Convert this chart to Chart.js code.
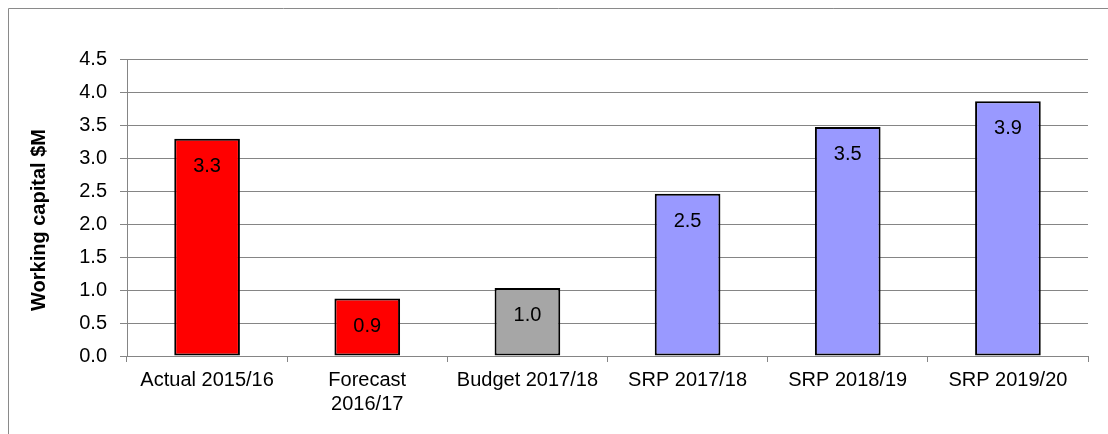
<!DOCTYPE html>
<html>
<head>
<meta charset="utf-8">
<title>Working capital</title>
<script src="https://cdn.jsdelivr.net/npm/chart.js@4"></script>
<style>
  html, body { margin: 0; padding: 0; background: #ffffff; }
  #wrap { width: 1108px; height: 434px; position: relative; }
  canvas { display: block; }
</style>
</head>
<body>
<div id="wrap"><canvas id="chart" width="1108" height="434"></canvas></div>
<script>
// Working capital by year ($M)
const categories = ['Actual 2015/16', ['Forecast', '2016/17'], 'Budget 2017/18', 'SRP 2017/18', 'SRP 2018/19', 'SRP 2019/20'];
const workingCapital = [3.29, 0.87, 1.03, 2.46, 3.47, 3.86];
const barColours = ['#ff0000', '#ff0000', '#a6a6a6', '#9999ff', '#9999ff', '#9999ff'];
const yMin = 0;
const yMax = 4.5;
const yStep = 0.5;
const axisTitle = 'Working capital $M';

const FONT = "'Liberation Sans', Arial, Helvetica, sans-serif";
const GRID = '#858585';
Chart.defaults.font.family = FONT;
Chart.defaults.color = '#000000';

// Thin frame around the whole chart area
const framePlugin = {
  id: 'frame',
  beforeDraw(chart) {
    const ctx = chart.ctx;
    ctx.save();
    ctx.strokeStyle = '#8a8a8a';
    ctx.lineWidth = 1;
    ctx.beginPath();
    ctx.moveTo(8.5, chart.height);
    ctx.lineTo(8.5, 8.5);
    ctx.lineTo(chart.width, 8.5);
    ctx.stroke();
    ctx.restore();
  }
};

// Value printed inside the top of each bar
const valueLabels = {
  id: 'valueLabels',
  afterDatasetsDraw(chart) {
    const ctx = chart.ctx;
    const meta = chart.getDatasetMeta(0);
    const data = chart.data.datasets[0].data;
    ctx.save();
    ctx.font = '20px ' + FONT;
    ctx.fillStyle = '#000000';
    ctx.textAlign = 'center';
    ctx.textBaseline = 'alphabetic';
    meta.data.forEach((bar, i) => {
      ctx.fillText(data[i].toFixed(1), bar.x, bar.y + 33);
    });
    ctx.restore();
  }
};

// Rotated y-axis title
const yTitle = {
  id: 'yTitle',
  afterDraw(chart) {
    const ctx = chart.ctx;
    ctx.save();
    ctx.font = 'bold 20px ' + FONT;
    ctx.fillStyle = '#000000';
    ctx.textAlign = 'center';
    ctx.textBaseline = 'alphabetic';
    ctx.translate(45, 220);
    ctx.rotate(-Math.PI / 2);
    ctx.fillText(axisTitle, 0, 0);
    ctx.restore();
  }
};

new Chart(document.getElementById('chart'), {
  type: 'bar',
  data: {
    labels: categories,
    datasets: [{
      data: workingCapital,
      backgroundColor: barColours,
      borderColor: '#000000',
      borderWidth: 2,
      borderSkipped: false,
      categoryPercentage: 1,
      barPercentage: 0.41
    }]
  },
  options: {
    responsive: false,
    animation: false,
    events: [],
    layout: { padding: { left: 8, right: 20, top: 59, bottom: 0 } },
    plugins: {
      legend: { display: false },
      tooltip: { enabled: false },
      title: { display: false }
    },
    scales: {
      x: {
        afterFit(scale) { scale.height = 78; },
        grid: {
          display: true,
          drawOnChartArea: false,
          drawTicks: true,
          tickLength: 6,
          color: GRID,
          lineWidth: 1,
          offset: true
        },
        border: { display: true, color: GRID, width: 1 },
        ticks: {
          font: { size: 20, lineHeight: 1.22 },
          color: '#000000',
          padding: 6,
          maxRotation: 0,
          autoSkip: false
        }
      },
      y: {
        min: yMin,
        max: yMax,
        afterFit(scale) { scale.width = 119; },
        grid: {
          color: GRID,
          lineWidth: 1,
          drawTicks: true,
          tickLength: 7
        },
        border: { display: true, color: GRID, width: 1 },
        ticks: {
          stepSize: yStep,
          font: { size: 20 },
          color: '#000000',
          padding: 13,
          callback: (v) => Number(v).toFixed(1)
        }
      }
    }
  },
  plugins: [framePlugin, valueLabels, yTitle]
});
</script>
</body>
</html>
